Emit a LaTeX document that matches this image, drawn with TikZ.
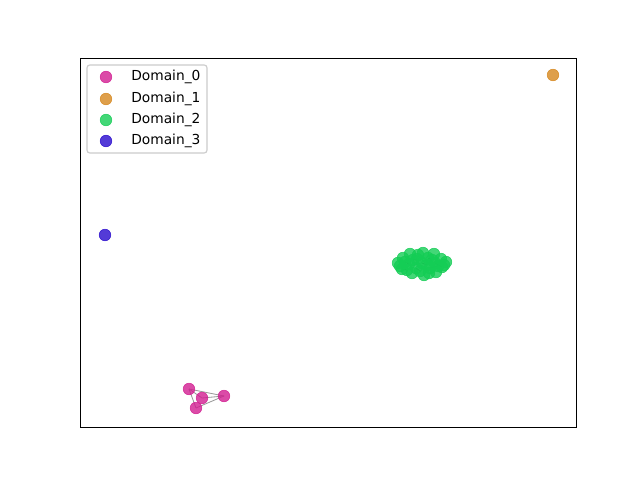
\documentclass[tikz,border=0pt]{standalone}
\usepackage{fontspec}
\setmainfont{DejaVu Sans}
\usepackage{xcolor}
\usetikzlibrary{positioning}

\definecolor{domzero}{RGB}{210,30,145}
\definecolor{domone}{RGB}{214,135,30}
\definecolor{domtwo}{RGB}{20,205,85}
\definecolor{domthree}{RGB}{40,10,205}
\definecolor{legframe}{RGB}{204,204,204}

\begin{document}
\begin{tikzpicture}[
    x=0.025cm, y=-0.025cm,
    dot/.style={circle, inner sep=0pt, minimum size=0.29cm, fill opacity=0.8, draw opacity=0.9, line width=0.4pt},
    zero/.style={dot, fill=domzero, draw=domzero},
    one/.style={dot, fill=domone, draw=domone},
    two/.style={dot, fill=domtwo, draw=domtwo},
    three/.style={dot, fill=domthree, draw=domthree},
    link/.style={draw=gray!80, line width=0.6pt},
    innerlink/.style={draw=black, line width=0.6pt},
    legtext/.style={anchor=west, font=\fontsize{9.8}{12}\selectfont, inner sep=0pt}
]
    \useasboundingbox (0,0) rectangle (640,480);
    \fill[white] (0,0) rectangle (640,480);

    % axes box
    \coordinate (axtl) at (80,58);
    \coordinate (axbr) at (576,427);

    % Domain_0 points
    \coordinate (a) at (189,389);
    \coordinate (b) at (202,398);
    \coordinate (c) at (224,396);
    \coordinate (d) at (196,408);
    \draw[link] (a) -- (c);
    \draw[link] (a) -- (d);
    \draw[link] (d) -- (c);
    \draw[link] (b) -- (c);
    \draw[link] (a) -- (b);
    \foreach \p in {a,b,c,d}
        \node[zero] (n\p) at (\p) {};

    % Domain_2 cluster
    \foreach \i/\px/\py in {1/398/263, 2/403/258, 3/402/269, 4/410/254, 5/409/264,
        6/412/273, 7/417/259, 8/416/268, 9/423/253, 10/422/263, 11/424/275,
        12/428/258, 13/430/268, 14/434/254, 15/435/263, 16/436/272, 17/441/259,
        18/442/267, 19/446/262, 20/405/262, 21/413/260, 22/420/271, 23/427/265,
        24/432/260, 25/438/266, 26/418/255, 27/429/273, 28/400/266, 29/444/265,
        30/407/270}
        \coordinate (g\i) at (\px,\py);
    \draw[innerlink] (g20) -- (g5);
    \draw[innerlink] (g10) -- (g23);
    \draw[innerlink] (g12) -- (g24);
    \draw[innerlink] (g13) -- (g25);
    \draw[innerlink] (g21) -- (g7);
    \draw[innerlink] (g8) -- (g22);
    \draw[innerlink] (g15) -- (g18);
    \draw[innerlink] (g3) -- (g30);
    \foreach \i in {1,...,30}
        \node[two] (m\i) at (g\i) {};

    % single points
    \node[one] (orange) at (553,75) {};
    \node[three] (blue) at (105,235) {};

    % frame on top
    \draw[line width=0.6pt] (axtl) rectangle (axbr);

    % legend
    \draw[legframe, fill=white, fill opacity=0.8, rounded corners=2pt, line width=0.8pt]
        (87,65) rectangle (207,153);
    \node[zero] (k0) at (106,77) {};
    \node[legtext, right=17.8pt of k0.center] (l0) {Domain\_0};
    \node[one] (k1) at (106,99) {};
    \node[legtext, right=17.8pt of k1.center] (l1) {Domain\_1};
    \node[two] (k2) at (106,120) {};
    \node[legtext, right=17.8pt of k2.center] (l2) {Domain\_2};
    \node[three] (k3) at (106,141) {};
    \node[legtext, right=17.8pt of k3.center] (l3) {Domain\_3};
\end{tikzpicture}
\end{document}
